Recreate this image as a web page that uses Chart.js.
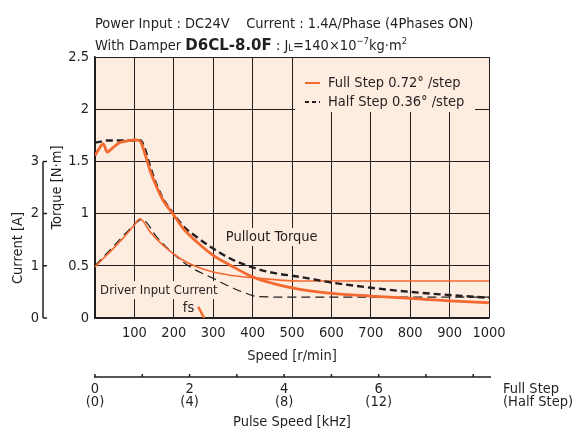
<!DOCTYPE html>
<html>
<head>
<meta charset="utf-8">
<script src="https://cdn.jsdelivr.net/npm/chart.js@4.4.0/dist/chart.umd.min.js"></script>
<style>
  html, body { margin: 0; padding: 0; background: #fff; }
</style>
</head>
<body>
<canvas id="chart" width="573" height="428"></canvas>
<script>
const FONT = "'Liberation Sans Narrow', 'DejaVu Sans Condensed', sans-serif";
const ORANGE = '#f3692f';
const INK = '#231f20';
const PEACH = '#fdece0';
const FS = 14.5;

// pullout torque [N·m] vs speed [r/min]
const fullTorqueSpeed = [0, 10, 21, 31, 45, 63, 80, 100, 112, 118, 127, 140, 157, 173, 199, 224, 258, 300, 343, 400, 453, 520, 600, 700, 800, 900, 1000];
const fullTorque = [1.555, 1.62, 1.667, 1.59, 1.63, 1.68, 1.695, 1.705, 1.70, 1.67, 1.57, 1.41, 1.25, 1.126, 0.99, 0.856, 0.73, 0.60, 0.506, 0.394, 0.33, 0.274, 0.236, 0.21, 0.188, 0.165, 0.146];
const halfTorqueSpeed = [0, 15, 30, 60, 100, 115, 125, 140, 157, 173, 199, 224, 258, 300, 343, 400, 453, 520, 600, 700, 800, 900, 1000];
const halfTorque = [1.68, 1.69, 1.70, 1.70, 1.70, 1.70, 1.64, 1.45, 1.27, 1.14, 1.0, 0.88, 0.776, 0.665, 0.57, 0.484, 0.432, 0.394, 0.34, 0.29, 0.25, 0.22, 0.194];

// driver input current [A] vs speed [r/min]
const fullCurrentSpeed = [0, 13, 40, 70, 100, 114, 140, 173, 216, 258, 300, 343, 400, 520, 600, 700, 800, 900, 1000];
const fullCurrent = [0.98, 1.08, 1.28, 1.52, 1.78, 1.90, 1.65, 1.39, 1.14, 0.98, 0.88, 0.82, 0.77, 0.71, 0.71, 0.71, 0.71, 0.71, 0.71];
const halfCurrentSpeed = [0, 20, 50, 80, 110, 120, 157, 199, 241, 300, 351, 400, 410, 500, 600, 700, 800, 900, 1000];
const halfCurrent = [1.0, 1.16, 1.4, 1.64, 1.86, 1.88, 1.55, 1.23, 0.98, 0.76, 0.57, 0.43, 0.41, 0.40, 0.40, 0.40, 0.40, 0.40, 0.40];

// starting pulse rate mark
const fsSpeed = [262, 277];
const fsTorque = [0.108, 0];

// pulse speed axis [kHz], full step (half step)
const pulseTicks = [0, 1, 2, 3, 4, 5, 6, 7, 8];
const pulseFullLabels = [0, 2, 4, 6];
const pulseHalfLabels = [0, 4, 8, 12];
const rpmPerKHz = 120;

const legendLabels = ['Full Step 0.72° /step', 'Half Step 0.36° /step'];

const toPoints = (xs, ys) => xs.map((x, i) => ({ x: x, y: ys[i] }));

Chart.defaults.font.family = FONT;
Chart.defaults.font.size = FS;
Chart.defaults.color = INK;

const f = (size, weight) => (weight ? weight + ' ' : '') + size + 'px ' + FONT;

const boxLabels = [
  { t: 'Pullout Torque', sx: 332, ty: 0.776, size: FS },
  { t: 'Driver Input Current', sx: 13, ty: 0.267, size: 13 }
];

const decor = {
  id: 'decor',
  beforeDraw(chart) {
    const { ctx, chartArea: a } = chart;
    ctx.save();
    ctx.fillStyle = PEACH;
    ctx.fillRect(a.left, a.top, a.right - a.left, a.bottom - a.top);
    ctx.restore();
  },
  beforeDatasetsDraw(chart) {
    const { ctx, chartArea: a, scales } = chart;
    const x = scales.x, y = scales.y;
    ctx.save();
    ctx.fillStyle = PEACH;
    // legend patch
    ctx.fillRect(a.right - 194, a.top + 1, 180, 54);
    // label patches
    boxLabels.forEach(b => {
      ctx.font = f(b.size);
      const w = ctx.measureText(b.t).width;
      ctx.fillRect(x.getPixelForValue(b.sx) - 3, y.getPixelForValue(b.ty) - 9, w + 6, 18);
    });
    ctx.restore();
  },
  afterDraw(chart) {
    const { ctx, chartArea: a, scales } = chart;
    const x = scales.x, y = scales.y, y2 = scales.y2;
    ctx.save();
    ctx.fillStyle = INK;
    ctx.strokeStyle = INK;
    ctx.textBaseline = 'alphabetic';

    // header
    const runs1 = [{ t: 'Power Input : DC24V    Current : 1.4A/Phase (4Phases ON)', font: f(FS) }];
    const runs2 = [
      { t: 'With Damper ', font: f(FS) },
      { t: 'D6CL-8.0F', font: "bold 15px 'DejaVu Sans', sans-serif" },
      { t: ' : J', font: f(FS) },
      { t: 'L', font: f(9.5), dy: 1 },
      { t: '=140×10', font: f(FS) },
      { t: '−7', font: f(9.5), dy: -6 },
      { t: 'kg·m', font: f(FS) },
      { t: '2', font: f(9.5), dy: -6 }
    ];
    const drawRuns = (runs, px, py) => {
      runs.forEach(r => {
        ctx.font = r.font;
        ctx.fillText(r.t, px, py + (r.dy || 0));
        px += ctx.measureText(r.t).width;
      });
    };
    drawRuns(runs1, a.left, 28);
    drawRuns(runs2, a.left, 50);

    // legend
    ctx.textBaseline = 'middle';
    ctx.font = f(FS);
    const lx = a.right - 184;
    [[ORANGE, [], 2, a.top + 26], [INK, [4, 3], 2, a.top + 45]].forEach(([c, dash, w, ly], i) => {
      ctx.strokeStyle = c;
      ctx.lineWidth = w;
      ctx.setLineDash(dash);
      ctx.beginPath();
      ctx.moveTo(lx, ly);
      ctx.lineTo(lx + 15, ly);
      ctx.stroke();
      ctx.fillText(legendLabels[i], lx + 23, ly);
    });
    ctx.setLineDash([]);

    // curve labels
    boxLabels.forEach(b => {
      ctx.font = f(b.size);
      ctx.fillText(b.t, x.getPixelForValue(b.sx), y.getPixelForValue(b.ty));
    });
    ctx.font = f(FS);
    ctx.fillText('fs', x.getPixelForValue(223), y.getPixelForValue(0.09));

    // current axis bracket
    ctx.strokeStyle = INK;
    ctx.lineWidth = 1.5;
    const bx = 43;
    ctx.beginPath();
    ctx.moveTo(bx, y2.getPixelForValue(3));
    ctx.lineTo(bx, y2.getPixelForValue(0));
    [0, 1, 2, 3].forEach(v => {
      const py = y2.getPixelForValue(v);
      ctx.moveTo(bx, py);
      ctx.lineTo(bx + 4, py);
    });
    ctx.stroke();
    ctx.save();
    ctx.translate(18, 248);
    ctx.rotate(-Math.PI / 2);
    ctx.textAlign = 'center';
    ctx.fillText('Current [A]', 0, 0);
    ctx.restore();

    // pulse speed axis
    const ay = a.bottom + 59;
    ctx.lineWidth = 1.5;
    ctx.beginPath();
    ctx.moveTo(x.getPixelForValue(0) - 1, ay);
    ctx.lineTo(x.getPixelForValue(1000) + 2, ay);
    pulseTicks.forEach(k => {
      const px = x.getPixelForValue(k * rpmPerKHz);
      ctx.moveTo(px, ay);
      ctx.lineTo(px, ay - 3);
    });
    ctx.stroke();
    ctx.textAlign = 'center';
    pulseFullLabels.forEach((k, i) => {
      const px = x.getPixelForValue(k * rpmPerKHz);
      ctx.fillText(String(k), px, ay + 12);
      ctx.fillText('(' + pulseHalfLabels[i] + ')', px, ay + 25);
    });
    ctx.fillText('Pulse Speed [kHz]', (a.left + a.right) / 2, ay + 45);
    ctx.textAlign = 'left';
    ctx.fillText('Full Step', a.right + 14, ay + 12);
    ctx.fillText('(Half Step)', a.right + 14, ay + 25);
    ctx.restore();
  }
};

const line = (label, xs, ys, color, width, dash, axis) => ({
  label: label,
  data: toPoints(xs, ys),
  borderColor: color,
  backgroundColor: color,
  borderWidth: width,
  borderDash: dash,
  yAxisID: axis,
  pointRadius: 0,
  cubicInterpolationMode: 'monotone',
  fill: false
});

new Chart(document.getElementById('chart').getContext('2d'), {
  type: 'line',
  data: {
    datasets: [
      line('Full Step torque', fullTorqueSpeed, fullTorque, ORANGE, 2.8, [], 'y'),
      line('Half Step torque', halfTorqueSpeed, halfTorque, INK, 2.4, [7, 4], 'y'),
      line('Full Step current', fullCurrentSpeed, fullCurrent, ORANGE, 1.6, [], 'y2'),
      line('Half Step current', halfCurrentSpeed, halfCurrent, INK, 1.2, [9, 5], 'y2'),
      line('fs', fsSpeed, fsTorque, ORANGE, 2.5, [], 'y')
    ]
  },
  options: {
    responsive: false,
    animation: false,
    layout: { padding: { left: 0, right: 84, top: 57, bottom: 60 } },
    scales: {
      x: {
        type: 'linear',
        min: 0,
        max: 1000,
        ticks: { stepSize: 100, padding: 7, maxRotation: 0, autoSkip: false, callback: v => (v === 0 ? '' : String(v)) },
        grid: { color: INK, lineWidth: 1, drawTicks: false },
        border: { color: INK, width: 1.5 },
        title: { display: true, text: 'Speed [r/min]', padding: { top: 2, bottom: 3 } },
        afterFit: s => { s.height = 50; }
      },
      y: {
        type: 'linear',
        position: 'left',
        weight: 0,
        min: 0,
        max: 2.5,
        ticks: { stepSize: 0.5, padding: 6, callback: v => String(v) },
        grid: { color: INK, lineWidth: 1, drawTicks: false },
        border: { color: INK, width: 1.5 },
        title: { display: true, text: 'Torque [N·m]', padding: { top: 4, bottom: 4 } },
        afterFit: s => { s.width = 50; }
      },
      y2: {
        type: 'linear',
        position: 'left',
        weight: 1,
        min: 0,
        max: 5,
        ticks: { stepSize: 1, padding: 6, callback: v => (v <= 3 ? String(v) : '') },
        grid: { drawOnChartArea: false, drawTicks: false },
        border: { display: false },
        afterFit: s => { s.width = 45; }
      }
    },
    plugins: {
      legend: { display: false },
      tooltip: { enabled: false }
    }
  },
  plugins: [decor]
});
</script>
</body>
</html>
